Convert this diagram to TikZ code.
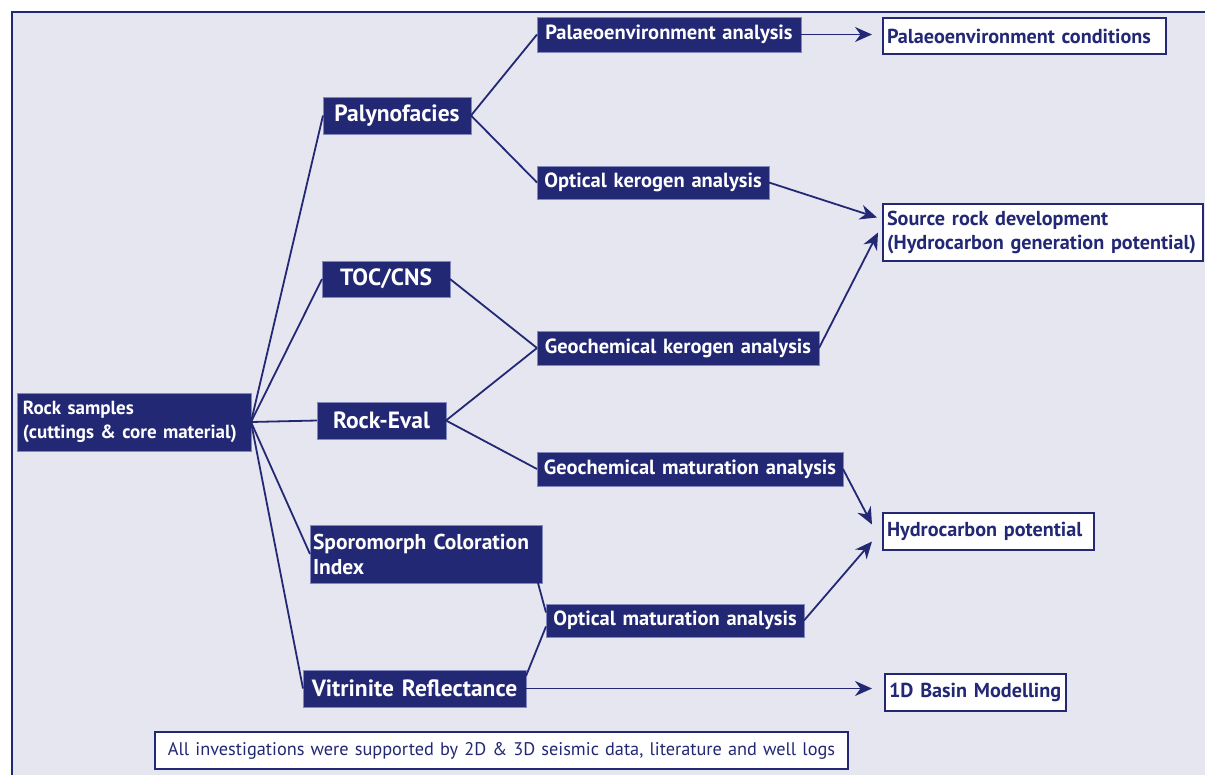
\documentclass[tikz,border=0pt]{standalone}
\usepackage{fontspec}
\setmainfont{PT Sans}
\usetikzlibrary{arrows.meta,calc}
\definecolor{navy}{RGB}{35,40,117}
\definecolor{bg}{RGB}{230,230,240}
\definecolor{dkedge}{RGB}{130,135,190}
\begin{document}
\begin{tikzpicture}[x=1pt,y=-1pt,
  darkbox/.style={fill=navy, draw=dkedge, line width=0.8pt, text=white,
    font=\bfseries\fontsize{20.5}{23}\selectfont, anchor=north west,
    inner xsep=4pt, inner ysep=0pt, outer sep=0pt, align=center},
  bigbox/.style={darkbox, font=\bfseries\fontsize{23.5}{25}\selectfont},
  whitebox/.style={fill=white, draw=navy, line width=1.8pt, text=navy,
    font=\bfseries\fontsize{20.2}{24}\selectfont, anchor=north west,
    inner xsep=4pt, inner ysep=0pt, outer sep=0pt, align=left},
  footbox/.style={whitebox, line width=1.4pt, font=\fontsize{18.3}{20}\selectfont, align=center},
  conn/.style={draw=navy, line width=1.8pt},
  arr/.style={conn, -{Stealth[length=17pt,width=15pt,inset=5.5pt]}}]
\useasboundingbox (0,0) rectangle (1205,774);
\fill[white] (0,0) rectangle (1205,774);
\draw[navy, line width=1.5pt, fill=bg] (12,12) rectangle (1230,800);

% first column
\node[darkbox, font=\bfseries\fontsize{19}{24}\selectfont, text width=222pt, minimum height=58pt, align=left, inner xsep=6pt] (rock) at (17,393)
  {Rock samples\\(cuttings \& core material)};
% second column
\node[bigbox, text width=140pt, minimum height=37pt] (paly) at (323,97) {Palynofacies};
\node[bigbox, text width=120pt, minimum height=36pt] (toc) at (322,261) {TOC/CNS};
\node[bigbox, text width=121pt, minimum height=37pt] (re) at (317,402) {Rock-Eval};
\node[bigbox, font=\bfseries\fontsize{21.5}{25}\selectfont, text width=226pt, minimum height=58pt, align=left, inner xsep=3pt] (sci) at (310,525)
  {Sporomorph Coloration\\Index};
\node[bigbox, text width=219pt, minimum height=37pt, inner xsep=2pt] (vr) at (303,670) {Vitrinite Reflectance};
% third column
\node[darkbox, text width=256pt, minimum height=35pt] (pea) at (537,17) {Palaeoenvironment analysis};
\node[darkbox, text width=224pt, minimum height=33pt] (oka) at (537,166) {Optical kerogen analysis};
\node[darkbox, text width=274pt, minimum height=34pt] (gka) at (537,331) {Geochemical kerogen analysis};
\node[darkbox, text width=300pt, minimum height=34pt, inner xsep=3pt] (gma) at (537,452) {Geochemical maturation analysis};
\node[darkbox, text width=250pt, minimum height=33pt] (oma) at (546,604) {Optical maturation analysis};
% results
\node[whitebox, text width=275pt, minimum height=36pt] (pec) at (883,18) {Palaeoenvironment conditions};
\node[whitebox, text width=312pt, minimum height=57pt] (src) at (883,204)
  {Source rock development\\(Hydrocarbon generation potential)};
\node[whitebox, text width=203pt, minimum height=37pt] (hcp) at (883,513) {Hydrocarbon potential};
\node[whitebox, text width=173pt, minimum height=37pt] (bm) at (885,674) {1D Basin Modelling};
% footer
\node[footbox, text width=685pt, minimum height=37pt] (foot) at (155,732)
  {All investigations were supported by 2D \& 3D seismic data, literature and well logs};

% connectors
\foreach \t in {paly,toc,re,sci,vr} \draw[conn] (rock.east) -- (\t.west);
\draw[conn] (paly.east) -- (pea.west);
\draw[conn] (paly.east) -- (oka.west);
\draw[conn] (toc.east) -- (gka.west);
\draw[conn] (re.east) -- (gka.west);
\draw[conn] (re.east) -- (gma.west);
\draw[conn] ($(sci.south east)+(-4,0)$) -- ($(oma.west)+(0,-8)$);
\draw[conn] ($(vr.north east)+(0,6)$) -- ($(oma.west)+(0,6)$);

% arrows
\draw[arr, shorten >=11pt] (pea.east) -- (pea.east -| pec.west);
\draw[arr] (oka.east) -- ($(src.west)+(-6,-15)$);
\draw[arr] (gka.east) -- ($(src.west)+(-5,0)$);
\draw[arr] (gma.east) -- ($(hcp.west)+(-11,-7)$);
\draw[arr] (oma.east) -- ($(hcp.west)+(-11,10)$);
\draw[arr, shorten >=13pt] (vr.east) -- (vr.east -| bm.west);
\end{tikzpicture}
\end{document}
